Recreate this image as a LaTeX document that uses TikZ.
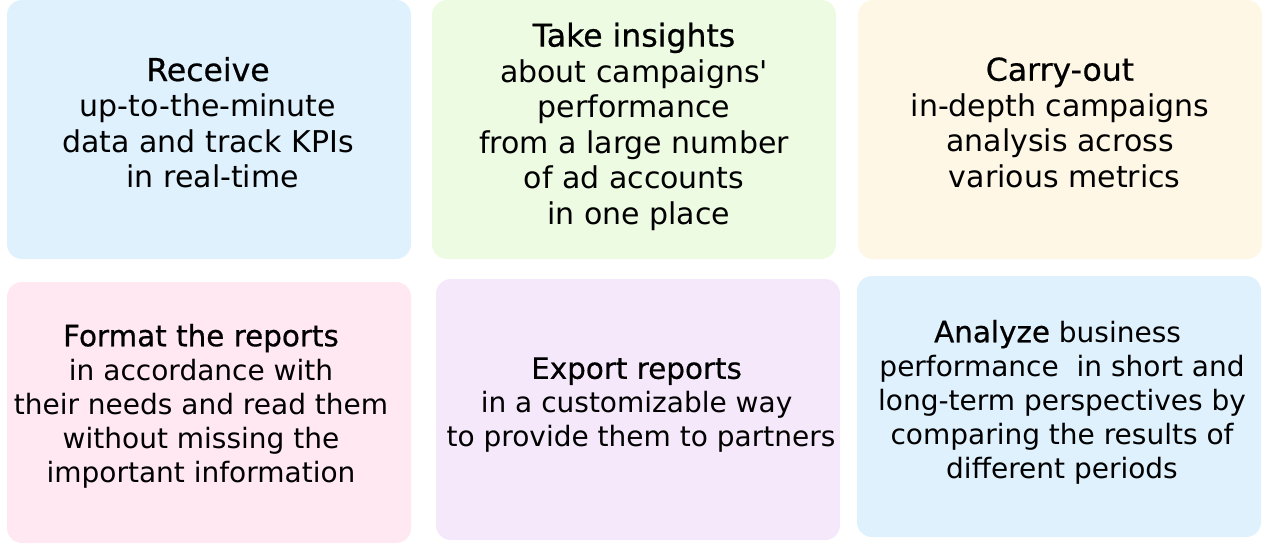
\documentclass[tikz,border=0pt]{standalone}
\usepackage{fontspec}
\newfontfamily\boxfont{DejaVu Sans}
\newfontfamily\headfont{DejaVu Sans}[FakeBold=0.6,Scale=1.05]
\definecolor{skyblue}{RGB}{222,241,253}
\definecolor{mintgreen}{RGB}{238,251,227}
\definecolor{cream}{RGB}{254,247,230}
\definecolor{blush}{RGB}{255,232,242}
\definecolor{lavender}{RGB}{245,232,250}
\tikzset{
  card/.style={draw=none,rounded corners=15pt,minimum width=404pt,inner sep=0pt},
  bigcard/.style={card,minimum height=259pt},
  smallcard/.style={card,minimum height=261pt},
  bigtext/.style={align=center,inner sep=0pt,font=\boxfont\fontsize{30}{35.5}\selectfont},
  smalltext/.style={align=center,inner sep=0pt,font=\boxfont\fontsize{28}{34}\selectfont}
}
\begin{document}
\begin{tikzpicture}[x=1pt,y=-1pt]
\useasboundingbox (0,0) rectangle (1263,559);
% top row
\node[bigcard,fill=skyblue] (receive) at (209,129.5) {};
\node[bigtext] (receivetext) at (208,122.5) {{\headfont Receive}\\up-to-the-minute\\data and track KPIs\\\ in real-time};
\node[bigcard,fill=mintgreen] (insights) at (634,129.5) {};
\node[bigtext] (insightstext) at (634,126.5) {{\headfont Take insights}\\about campaigns'\\performance\\from a large number\\of ad accounts\\\ in one place};
\node[bigcard,fill=cream] (carryout) at (1060,129.5) {};
\node[bigtext] (carryouttext) at (1060,122.5) {{\headfont Carry-out}\\in-depth campaigns\\analysis across\\\ various metrics};
% bottom row
\node[smallcard,fill=blush] (format) at (209,412.5) {};
\node[smalltext] (formattext) at (201,406) {{\headfont Format the reports}\\in accordance with\\their needs and read them\\without missing the\\important information};
\node[smallcard,fill=lavender] (export) at (638,409.5) {};
\node[smalltext] (exporttext) at (641,405) {{\headfont Export reports}\ \mbox{}\\in a customizable way\ \mbox{}\\to provide them to partners};
\node[smallcard,fill=skyblue] (analyze) at (1059,406.5) {};
\node[smalltext] (analyzetext) at (1062,402) {{\headfont Analyze} business\ \mbox{}\\performance\ \ in short and\\long-term perspectives by\\comparing the results of\\different periods};
\end{tikzpicture}
\end{document}
